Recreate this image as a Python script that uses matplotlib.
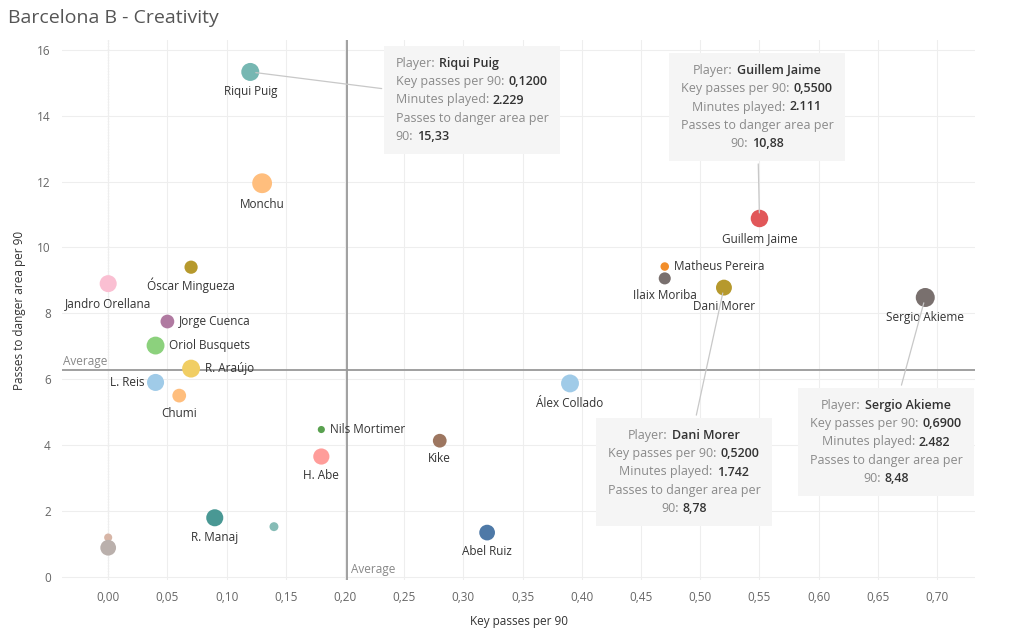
import numpy as np
import matplotlib
matplotlib.use("Agg")
import matplotlib.pyplot as plt
from matplotlib.offsetbox import TextArea, HPacker, VPacker, AnnotationBbox

plt.rcParams['font.family'] = ['Open Sans', 'DejaVu Sans']

# Data
players = ["Riqui Puig", "Monchu", "Guillem Jaime", "Óscar Mingueza", "Jandro Orellana",
           "Matheus Pereira", "Ilaix Moriba", "Dani Morer", "Sergio Akieme", "Jorge Cuenca",
           "Oriol Busquets", "R. Araújo", "L. Reis", "Chumi", "Álex Collado",
           "Nils Mortimer", "Kike", "H. Abe", "R. Manaj", "", "Abel Ruiz", "", ""]
key_passes = [0.12, 0.13, 0.55, 0.07, 0.00,
              0.47, 0.47, 0.52, 0.69, 0.05,
              0.04, 0.07, 0.04, 0.06, 0.39,
              0.18, 0.28, 0.18, 0.09, 0.14, 0.32, 0.00, 0.00]
danger_passes = [15.33, 11.95, 10.88, 9.40, 8.90,
                 9.42, 9.06, 8.78, 8.48, 7.75,
                 7.02, 6.32, 5.90, 5.50, 5.87,
                 4.47, 4.13, 3.65, 1.79, 1.52, 1.34, 1.19, 0.88]
minutes = [2229, 2700, 2111, 1200, 2000,
           500, 1000, 1742, 2482, 1300,
           2200, 2200, 2000, 1300, 2200,
           350, 1300, 1800, 2000, 550, 1700, 450, 1700]
colors = ["#76B7B2", "#FFBE7D", "#E15759", "#B6992D", "#FABFD2",
          "#F28E2B", "#79706E", "#B6992D", "#79706E", "#B07AA1",
          "#8CD17D", "#F1CE63", "#A0CBE8", "#FFBE7D", "#A0CBE8",
          "#59A14F", "#9D7660", "#FF9D9A", "#499894", "#86BCB6", "#4E79A7", "#D7B5A6", "#BAB0AC"]

avg_key_passes = 0.202
avg_danger = 6.29

x_ticks = np.arange(0, 0.701, 0.05)
y_ticks = np.arange(0, 17, 2)

# label placement: 'b' below, 'r' right, 'l' left
placement = {"Matheus Pereira": "r", "Jorge Cuenca": "r", "Oriol Busquets": "r",
             "R. Araújo": "r", "Nils Mortimer": "r", "L. Reis": "l"}

# tooltip boxes: player -> (box centre in figure pixels, alignment)
tooltips = {"Riqui Puig": ((472, 528), "left"),
            "Guillem Jaime": ((757, 521), "center"),
            "Dani Morer": ((684, 156), "center"),
            "Sergio Akieme": ((886, 186), "center")}

fig = plt.figure(figsize=(10.14, 6.28), dpi=100)
ax = fig.add_axes([62 / 1014, 48 / 628, 913 / 1014, 540 / 628])

sizes = np.array(minutes) * 0.0754
ax.scatter(key_passes, danger_passes, s=sizes, c=colors, zorder=3, linewidths=0)

ax.set_xlim(-0.039, 0.732)
ax.set_ylim(-0.1, 16.3)

ax.set_xticks(x_ticks)
ax.set_xticklabels([f"{v:.2f}".replace(".", ",") for v in x_ticks])
ax.set_yticks(y_ticks)
ax.set_yticklabels([str(v) for v in y_ticks])
ax.tick_params(length=0, labelsize=8.5, labelcolor="#666666", pad=8)
ax.grid(True, color="#eeeeee", lw=0.8, zorder=0)
for s in ax.spines.values():
    s.set_visible(False)

ax.axvline(0, color="#aaaaaa", lw=0.8, ls=(0, (1, 1.5)), zorder=1)
ax.axvline(avg_key_passes, color="#999999", lw=1.3, zorder=2)
ax.axhline(avg_danger, color="#999999", lw=1.3, zorder=2)
ax.annotate("Average", xy=(0.001, avg_danger), xycoords=("axes fraction", "data"),
            xytext=(0, 2), textcoords="offset pixels", fontsize=8.5, color="#888888",
            va="bottom", ha="left")
ax.annotate("Average", xy=(avg_key_passes, 0), xycoords=("data", "axes fraction"),
            xytext=(4, 4), textcoords="offset pixels", fontsize=8.5, color="#888888",
            va="bottom", ha="left")

ax.set_xlabel("Key passes per 90", fontsize=8.5, color="#333333", labelpad=8)
ax.set_ylabel("Passes to danger area per 90", fontsize=8.5, color="#333333", labelpad=8)

fig.text(8 / 1014, 1 - 18 / 628, "Barcelona B - Creativity", fontsize=14, color="#555555",
         va="center", ha="left")

# point labels
for name, x, y, m in zip(players, key_passes, danger_passes, minutes):
    if not name:
        continue
    r = np.sqrt(m * 0.0754) / 0.72 / 2
    where = placement.get(name, "b")
    if where == "b":
        off, ha, va = (0, -(r + 11)), "center", "center"
    elif where == "r":
        off, ha, va = (r + 5, 0), "left", "center"
    else:
        off, ha, va = (-(r + 3), 0), "right", "center"
    ax.annotate(name, (x, y), xytext=off, textcoords="offset pixels", ha=ha, va=va,
                fontsize=8.5, color="#333333", zorder=4)


def row(label, value):
    a = TextArea(label, textprops=dict(color="#8a8a8a", fontsize=9))
    b = TextArea(value, textprops=dict(color="#333333", fontsize=9, fontweight="semibold"))
    return HPacker(children=[a, b], pad=0, sep=3, align="baseline")


for name, (centre, align) in tooltips.items():
    i = players.index(name)
    kp = f"{key_passes[i]:.4f}".replace(".", ",")
    mins = f"{minutes[i]:,}".replace(",", ".")
    dp = f"{danger_passes[i]:.2f}".replace(".", ",")
    rows = [row("Player:", name),
            row("Key passes per 90:", kp),
            row("Minutes played:", mins),
            TextArea("Passes to danger area per", textprops=dict(color="#8a8a8a", fontsize=9)),
            row("90:", dp)]
    box = VPacker(children=rows, pad=0, sep=3.8, align=align)
    ab = AnnotationBbox(box, (key_passes[i], danger_passes[i]), xybox=centre,
                        xycoords="data", boxcoords="figure pixels", frameon=True, pad=0.8,
                        bboxprops=dict(facecolor="#f5f5f5", edgecolor="none"),
                        arrowprops=dict(arrowstyle="-", color="#c8c8c8", lw=0.9, shrinkB=4),
                        zorder=5)
    ax.add_artist(ab)

fig.savefig("out.png", dpi=100)
